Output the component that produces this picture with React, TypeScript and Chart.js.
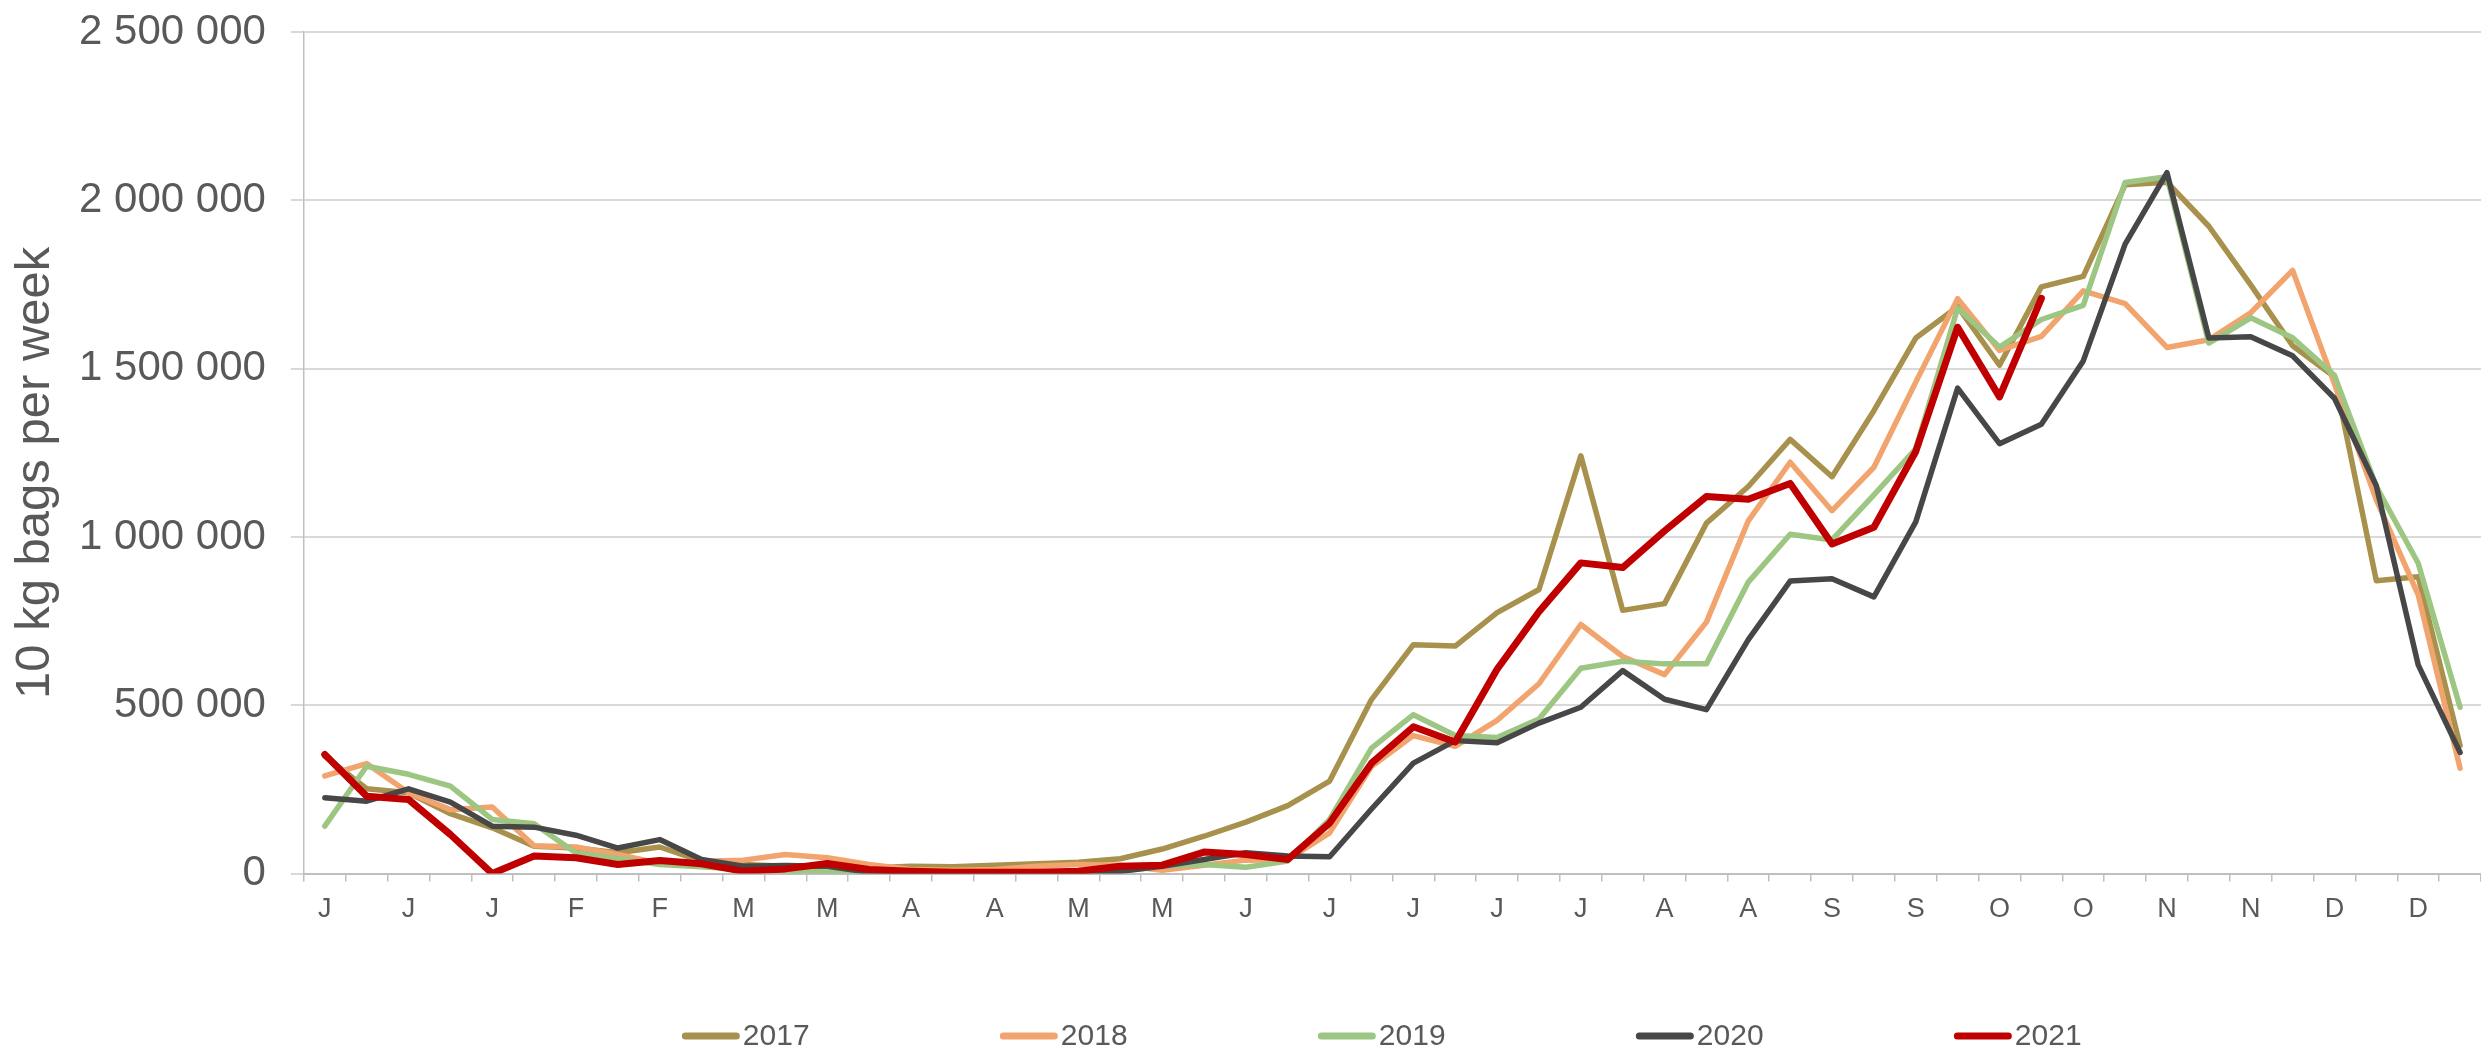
import React, { useEffect, useRef } from 'react';
import { Chart, registerables } from 'chart.js';

Chart.register(...registerables);

// Month initials shown under every other week
const monthTicks = ['J', 'J', 'J', 'F', 'F', 'M', 'M', 'A', 'A', 'M', 'M', 'J', 'J', 'J', 'J', 'J', 'A', 'A', 'S', 'S', 'O', 'O', 'N', 'N', 'D', 'D'];
const weekLabels = monthTicks.flatMap((m) => [m, '']);

const seriesNames = ['2017', '2018', '2019', '2020', '2021'];

const values2017 = [349000, 252000, 240000, 178000, 136000, 81000, 76000, 62000, 79000, 37000,
  27000, 22000, 22000, 17000, 22000, 20000, 25000, 29000, 34000, 44000,
  73000, 111000, 153000, 202000, 275000, 517000, 680000, 676000, 775000, 844000,
  1241000, 782000, 802000, 1041000, 1150000, 1290000, 1179000, 1375000, 1591000, 1684000,
  1510000, 1743000, 1774000, 2046000, 2054000, 1923000, 1749000, 1568000, 1476000, 870000,
  882000, 381000];

const values2018 = [290000, 327000, 240000, 190000, 198000, 83000, 79000, 57000, 30000, 37000,
  40000, 57000, 47000, 27000, 12000, 10000, 12000, 22000, 27000, 25000,
  10000, 25000, 40000, 42000, 121000, 318000, 410000, 378000, 455000, 564000,
  740000, 645000, 591000, 747000, 1048000, 1222000, 1078000, 1207000, 1460000, 1708000,
  1554000, 1596000, 1731000, 1693000, 1563000, 1586000, 1666000, 1792000, 1455000, 1110000,
  828000, 313000];

const values2019 = [141000, 319000, 295000, 260000, 161000, 148000, 61000, 45000, 27000, 20000,
  12000, 8000, 5000, 5000, 5000, 5000, 5000, 5000, 5000, 7000,
  22000, 27000, 19000, 37000, 161000, 373000, 472000, 410000, 404000, 459000,
  610000, 631000, 623000, 623000, 866000, 1008000, 991000, 1125000, 1262000, 1680000,
  1564000, 1646000, 1688000, 2053000, 2070000, 1576000, 1651000, 1592000, 1480000, 1150000,
  922000, 494000];

const values2020 = [225000, 215000, 252000, 212000, 141000, 138000, 114000, 76000, 101000, 42000,
  22000, 24000, 22000, 4000, 7000, 3000, 2000, 2000, 2000, 7000,
  22000, 42000, 62000, 52000, 50000, 192000, 328000, 395000, 389000, 447000,
  494000, 603000, 518000, 487000, 695000, 869000, 876000, 822000, 1045000, 1442000,
  1277000, 1335000, 1523000, 1870000, 2082000, 1591000, 1595000, 1538000, 1412000, 1152000,
  620000, 360000];

const values2021 = [354000, 230000, 220000, 116000, 0, 52000, 47000, 27000, 39000, 29000,
  7000, 14000, 30000, 12000, 7000, 4000, 4000, 4000, 7000, 22000,
  25000, 64000, 57000, 42000, 150000, 328000, 436000, 391000, 607000, 778000,
  923000, 909000, 1018000, 1120000, 1112000, 1159000, 979000, 1029000, 1254000, 1623000,
  1416000, 1709000];

const seriesValues = [values2017, values2018, values2019, values2020, values2021];
const seriesColors = ['#A8914D', '#F2A46E', '#9CC682', '#474747', '#C00000'];
const seriesWidths = [5.5, 5.5, 5.5, 5.5, 7];

const yMax = 2500000;
const yStep = 500000;
const axisTitle = '10 kg bags per week';

const FONT = '"Liberation Sans", Arial, sans-serif';
const TEXT = '#595959';

const fmt = (v: number) => String(v).replace(/\B(?=(\d{3})+(?!\d))/g, ' ');

const overlayPlugin = {
  id: 'overlay',
  afterDraw(chart: any) {
    const { ctx, chartArea } = chart;
    // y-axis title
    ctx.save();
    ctx.translate(35, (chartArea.top + chartArea.bottom) / 2 + 20);
    ctx.rotate(-Math.PI / 2);
    ctx.font = `49px ${FONT}`;
    ctx.fillStyle = TEXT;
    ctx.textAlign = 'center';
    ctx.textBaseline = 'middle';
    ctx.fillText(axisTitle, 0, 0);
    ctx.restore();

    // legend
    ctx.save();
    ctx.font = `30px ${FONT}`;
    const y = 1036;
    let x = chartArea.left + 378;
    seriesNames.forEach((name, i) => {
      ctx.strokeStyle = seriesColors[i];
      ctx.lineWidth = 7;
      ctx.lineCap = 'round';
      ctx.beginPath();
      ctx.moveTo(x + 3.5, y);
      ctx.lineTo(x + 58 - 3.5, y);
      ctx.stroke();
      ctx.fillStyle = TEXT;
      ctx.textAlign = 'left';
      ctx.textBaseline = 'middle';
      ctx.fillText(name, x + 61, y + 1);
      x += 318;
    });
    ctx.restore();
  },
};

export default function App() {
  const ref = useRef<HTMLCanvasElement>(null);

  useEffect(() => {
    document.body.style.margin = '0';
    document.body.style.overflow = 'hidden';
    const canvas = ref.current!;
    const chart = new Chart(canvas, {
      type: 'line',
      data: {
        labels: weekLabels,
        datasets: seriesNames.map((name, i) => ({
          label: name,
          data: seriesValues[i],
          borderColor: seriesColors[i],
          backgroundColor: seriesColors[i],
          borderWidth: seriesWidths[i],
          pointRadius: 0,
          pointHoverRadius: 0,
          tension: 0,
          fill: false,
          borderJoinStyle: 'round' as const,
          borderCapStyle: 'round' as const,
          order: seriesNames.length - 1 - i,
        })),
      },
      options: {
        responsive: false,
        devicePixelRatio: 1,
        animation: false,
        events: [],
        layout: { padding: { left: 54, right: 0, top: 32, bottom: 114 } },
        plugins: {
          legend: { display: false },
          tooltip: { enabled: false },
        },
        scales: {
          x: {
            type: 'category',
            offset: true,
            grid: {
              offset: true,
              drawOnChartArea: false,
              drawTicks: true,
              tickLength: 8,
              color: '#BFBFBF',
              lineWidth: 1.5,
            },
            border: { display: true, color: '#BFBFBF', width: 2 },
            ticks: {
              autoSkip: false,
              maxRotation: 0,
              minRotation: 0,
              padding: 12,
              color: TEXT,
              font: { family: FONT, size: 27 },
            },
          },
          y: {
            min: 0,
            max: yMax,
            grid: {
              color: '#D9D9D9',
              lineWidth: 2,
              drawTicks: true,
              tickLength: 13,
            },
            border: { display: true, color: '#BFBFBF', width: 1.5 },
            ticks: {
              stepSize: yStep,
              padding: 25,
              color: TEXT,
              font: { family: FONT, size: 42, lineHeight: 0.3 },
              callback: (v: any) => fmt(Number(v)),
            },
          },
        },
      },
      plugins: [overlayPlugin],
    });
    return () => chart.destroy();
  }, []);

  return (
    <div style={{ width: 2481, height: 1052, background: '#ffffff' }}>
      <canvas ref={ref} width={2481} height={1052} style={{ display: 'block' }} />
    </div>
  );
}
